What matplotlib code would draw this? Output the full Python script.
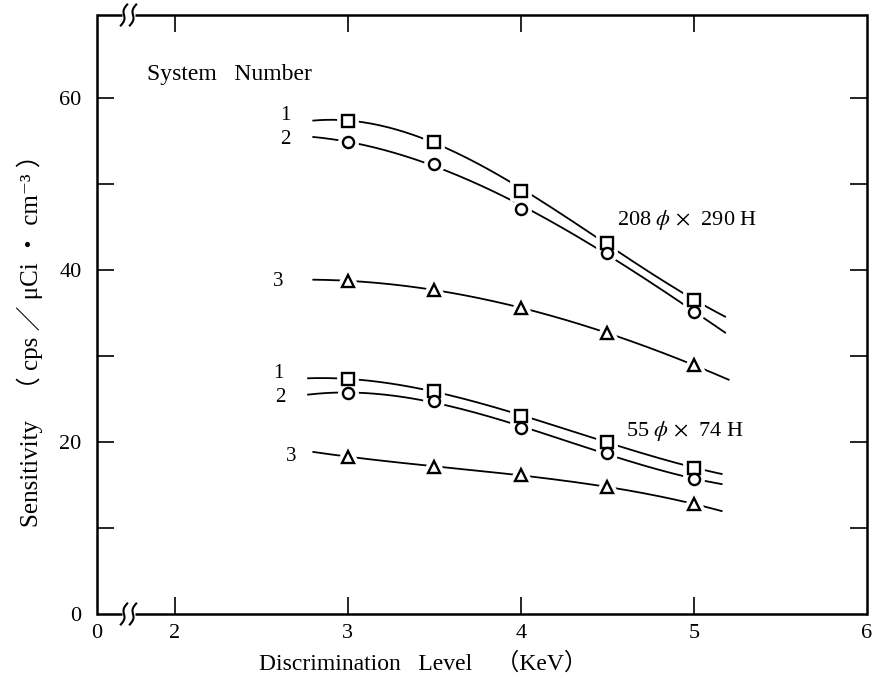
import numpy as np
import matplotlib
matplotlib.use("Agg")
import matplotlib.pyplot as plt

# ---------------- data ----------------
x_levels = [3.0, 3.5, 4.0, 4.5, 5.0]
large_sys1 = [57.3, 54.9, 49.2, 43.1, 36.5]
large_sys2 = [54.8, 52.3, 47.1, 42.0, 35.1]
large_sys3 = [38.7, 37.7, 35.5, 32.7, 28.9]
small_sys1 = [27.3, 25.9, 23.0, 20.0, 17.0]
small_sys2 = [25.7, 24.7, 21.6, 18.7, 15.7]
small_sys3 = [18.3, 17.1, 16.2, 14.7, 12.8]
system_labels = ["1", "2", "3"]
x_ticks = [2, 3, 4, 5, 6]
y_ticks = [0, 20, 40, 60]

plt.rcParams["font.family"] = ["Liberation Serif", "DejaVu Serif", "Noto Sans CJK JP"]
plt.rcParams["mathtext.fontset"] = "stix"

fig = plt.figure(figsize=(8.72, 6.83), dpi=100)
ax = fig.add_axes([97 / 872, 1 - 614 / 683, (867 - 97) / 872, (614 - 15) / 683])
XMIN, XMAX, YMIN, YMAX = 1.55, 6.0, 0.0, 69.6
ax.set_xlim(XMIN, XMAX)
ax.set_ylim(YMIN, YMAX)

series = [
    (large_sys1, "s", (2.80, 5.18)),
    (large_sys2, "o", (2.80, 5.18)),
    (large_sys3, "^", (2.80, 5.20)),
    (small_sys1, "s", (2.77, 5.16)),
    (small_sys2, "o", (2.77, 5.16)),
    (small_sys3, "^", (2.80, 5.16)),
]
for vals, mk, (x0, x1) in series:
    coef = np.polyfit(x_levels, vals, 3)
    xs = np.linspace(x0, x1, 200)
    ax.plot(xs, np.polyval(coef, xs), color="black", lw=1.3, zorder=2)
    ms = 8 if mk != "^" else 8.5
    ax.plot(x_levels, vals, ls="none", marker=mk, ms=ms, mfc="white", mec="white",
            mew=7, zorder=3)
    ax.plot(x_levels, vals, ls="none", marker=mk, ms=ms, mfc="white", mec="black",
            mew=1.7, zorder=4)

# system number labels
label_pos_large = [(2.64, 57.9), (2.64, 55.1), (2.60, 38.6)]
label_pos_small = [(2.60, 28.0), (2.61, 25.2), (2.67, 18.3)]
for lab, (lx, ly) in zip(system_labels, label_pos_large):
    ax.text(lx, ly, lab, fontsize=15, ha="center", va="center")
for lab, (lx, ly) in zip(system_labels, label_pos_small):
    ax.text(lx, ly, lab, fontsize=15, ha="center", va="center")

ax.text(1.84, 62.7, "System   Number", fontsize=17, ha="left", va="center")
ax.text(4.96, 45.8, r"208 $\phi$ $\times$  290 H", fontsize=16, ha="center", va="center")
ax.text(4.95, 21.3, r"55 $\phi$ $\times$  74 H", fontsize=16, ha="center", va="center")

# ticks
ax.set_xticks([XMIN] + x_ticks)
ax.set_xticklabels(["0"] + [str(t) for t in x_ticks])
ax.set_yticks(y_ticks)
ax.set_yticklabels([str(t) for t in y_ticks])
ax.set_yticks([10, 30, 50], minor=True)
ax.tick_params(axis="both", which="both", direction="in", length=12, width=1.2,
               labelsize=16, top=True, right=True)
ax.tick_params(axis="x", pad=7)
ax.tick_params(axis="y", pad=11)
xt = ax.get_xaxis().get_major_ticks()
xt[0].tick1line.set_visible(False)
xt[0].tick2line.set_visible(False)
xt[-1].tick1line.set_visible(False)
xt[-1].tick2line.set_visible(False)
yt = ax.get_yaxis().get_major_ticks()
yt[0].tick1line.set_visible(False)
yt[0].tick2line.set_visible(False)

for s in ["left", "right"]:
    ax.spines[s].set_linewidth(1.8)
ax.spines["top"].set_visible(False)
ax.spines["bottom"].set_visible(False)

# broken horizontal spines with "ʃʃ" marks
aw, ah = 770.0, 599.0
b0, b1 = (122 - 97) / aw, (135 - 97) / aw
for yy in (0.0, 1.0):
    ax.plot([0, b0], [yy, yy], color="black", lw=1.8, transform=ax.transAxes,
            clip_on=False, solid_capstyle="butt")
    ax.plot([b1, 1], [yy, yy], color="black", lw=1.8, transform=ax.transAxes,
            clip_on=False, solid_capstyle="butt")
    t = np.linspace(-1, 1, 40)
    for cx in ((124 - 97) / aw, (133 - 97) / aw):
        dx = (3.2 * t - 1.8 * np.sin(np.pi * t)) / aw
        dy = (10.5 * t) / ah
        ax.plot(cx + dx, yy + dy, color="black", lw=1.5, transform=ax.transAxes,
                clip_on=False)

ax.set_xlabel("Discrimination   Level    （KeV）", fontsize=17)
ax.xaxis.set_label_coords((423 - 97) / aw, -(663 - 614) / ah)
ax.xaxis.label.set_va("center")
ax.set_ylabel("Sensitivity   （ cps ／ μCi ・ cm⁻³ ）", fontsize=18)
ax.yaxis.set_label_coords(-(97 - 30) / aw, (614 - 335) / ah)
ax.yaxis.label.set_va("center")

fig.savefig("out.png", dpi=100)
